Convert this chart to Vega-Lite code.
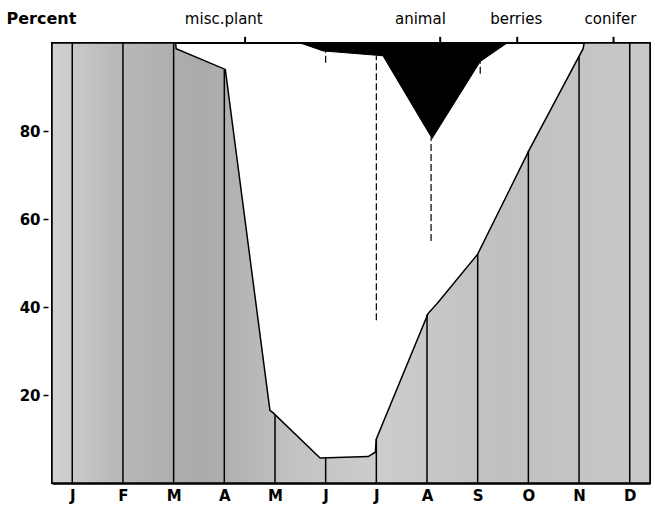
{
  "$schema": "https://vega.github.io/schema/vega-lite/v6.json",
  "autosize": {"type": "none"},
  "width": 598,
  "height": 440,
  "padding": {"left": 52, "top": 43, "right": 5, "bottom": 23},
  "background": "white",
  "config": {
    "view": {"stroke": "black", "strokeWidth": 2},
    "font": "DejaVu Sans",
    "axis": {"labelFont": "DejaVu Sans", "labelFontSize": 15, "labelFontWeight": "bold", "labelColor": "black", "titleFont": "DejaVu Sans", "titleFontSize": 16, "titleFontWeight": "bold", "titleColor": "black", "grid": false}
  },
  "datasets": {
    "conifer": [
      {"m": 0.6, "v": 100}, {"m": 3.04, "v": 100}, {"m": 3.05, "v": 98.7}, {"m": 4.02, "v": 94},
      {"m": 4.9, "v": 16.5}, {"m": 4.96, "v": 16}, {"m": 5.89, "v": 5.7}, {"m": 6.84, "v": 6},
      {"m": 6.98, "v": 7}, {"m": 7.0, "v": 10}, {"m": 8.02, "v": 38.5}, {"m": 8.2, "v": 40.8},
      {"m": 9.0, "v": 52}, {"m": 10.03, "v": 76}, {"m": 11.08, "v": 98.7}, {"m": 11.1, "v": 100},
      {"m": 12.4, "v": 100}
    ],
    "animal": [
      {"m": 5.5, "v": 100}, {"m": 5.95, "v": 98.2}, {"m": 7.13, "v": 97.1}, {"m": 8.1, "v": 78.3},
      {"m": 9.05, "v": 95.8}, {"m": 9.58, "v": 100}
    ],
    "grid": [
      {"m": 1, "top": 100}, {"m": 2, "top": 100}, {"m": 3, "top": 100}, {"m": 4, "top": 94},
      {"m": 5, "top": 15.5}, {"m": 6, "top": 5.8}, {"m": 7, "top": 10}, {"m": 8, "top": 38.3},
      {"m": 9, "top": 52}, {"m": 10, "top": 75.5}, {"m": 11, "top": 97}, {"m": 12, "top": 100}
    ],
    "ghost": [
      {"m": 6, "lo": 95.5, "hi": 98.4}, {"m": 7, "lo": 37, "hi": 97.1},
      {"m": 8.08, "lo": 55, "hi": 78.5}, {"m": 9.05, "lo": 93, "hi": 95.8}
    ],
    "labels": [
      {"label": "misc.plant", "tick": 4.41, "pos": 3.99},
      {"label": "animal", "tick": 8.26, "pos": 7.87},
      {"label": "berries", "tick": 9.78, "pos": 9.76},
      {"label": "conifer", "tick": 11.68, "pos": 11.62}
    ]
  },
  "layer": [
    {
      "data": {"name": "conifer"},
      "mark": {"type": "area", "stroke": "black", "strokeWidth": 1.5, "clip": true,
        "fill": {"gradient": "linear", "x1": 0, "x2": 1, "y1": 0, "y2": 0,
          "stops": [
            {"offset": 0, "color": "#d2d2d2"},
            {"offset": 0.1, "color": "#bababa"},
            {"offset": 0.25, "color": "#a9a9a9"},
            {"offset": 0.4, "color": "#c2c2c2"},
            {"offset": 0.55, "color": "#cdcdcd"},
            {"offset": 0.75, "color": "#c0c0c0"},
            {"offset": 1, "color": "#c8c8c8"}
          ]}},
      "encoding": {
        "x": {"field": "m", "type": "quantitative", "scale": {"domain": [0.6, 12.4], "nice": false, "zero": false},
          "axis": {"values": [1,2,3,4,5,6,7,8,9,10,11,12], "labelExpr": "['J','F','M','A','M','J','J','A','S','O','N','D'][datum.value-1]", "tickSize": 0, "labelPadding": 5, "domainColor": "black", "domainWidth": 2.5, "title": null}},
        "y": {"field": "v", "type": "quantitative", "scale": {"domain": [0, 100], "nice": false},
          "axis": {"values": [20, 40, 60, 80], "domain": false, "tickSize": 5, "tickColor": "black", "tickWidth": 1.5, "offset": 4, "labelPadding": 3, "title": "Percent", "titleAngle": 0, "titleAlign": "left", "titleBaseline": "middle", "titleX": -42, "titleY": -25}},
        "y2": {"datum": 0}
      }
    },
    {
      "data": {"name": "animal"},
      "mark": {"type": "area", "fill": "black", "stroke": "black", "strokeWidth": 1},
      "encoding": {
        "x": {"field": "m", "type": "quantitative"},
        "y": {"field": "v", "type": "quantitative"},
        "y2": {"datum": 100}
      }
    },
    {
      "data": {"name": "grid"},
      "mark": {"type": "rule", "color": "black", "strokeWidth": 1.5},
      "encoding": {
        "x": {"field": "m", "type": "quantitative"},
        "y": {"field": "top", "type": "quantitative"},
        "y2": {"datum": 0}
      }
    },
    {
      "data": {"name": "ghost"},
      "mark": {"type": "rule", "color": "black", "strokeWidth": 1.2, "strokeDash": [7, 3]},
      "encoding": {
        "x": {"field": "m", "type": "quantitative"},
        "y": {"field": "lo", "type": "quantitative"},
        "y2": {"field": "hi"}
      }
    },
    {
      "data": {"name": "labels"},
      "mark": {"type": "rule", "color": "black", "strokeWidth": 2, "clip": false},
      "encoding": {
        "x": {"field": "tick", "type": "quantitative"},
        "y": {"datum": 100, "type": "quantitative"},
        "y2": {"datum": 101.4}
      }
    },
    {
      "data": {"name": "labels"},
      "mark": {"type": "text", "fontSize": 15, "font": "DejaVu Sans", "color": "black", "baseline": "middle", "align": "center", "dy": -24, "clip": false},
      "encoding": {
        "x": {"field": "pos", "type": "quantitative"},
        "y": {"datum": 100, "type": "quantitative"},
        "text": {"field": "label"}
      }
    }
  ]
}
